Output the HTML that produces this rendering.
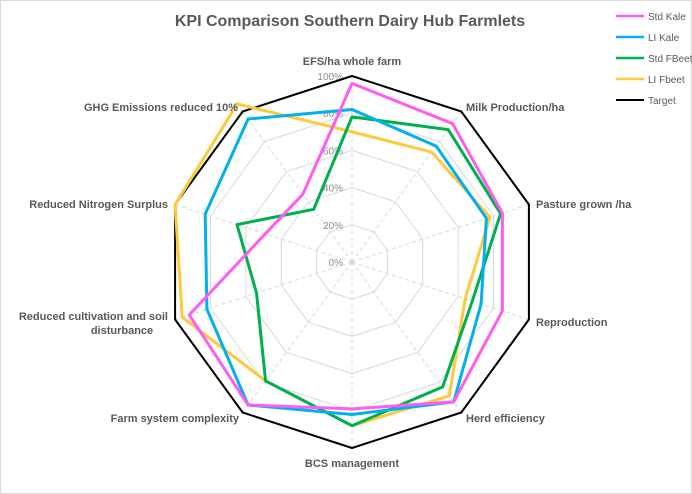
<!DOCTYPE html>
<html><head><meta charset="utf-8"><style>
html,body{margin:0;padding:0;background:#fff}
svg{display:block;font-family:"Liberation Sans",sans-serif}
</style></head><body>
<svg id="s" width="692" height="494" viewBox="0 0 692 494">
<rect x="0.5" y="0.5" width="691" height="493" fill="#fff" stroke="#d9d9d9"/>
<text x="350" y="26" text-anchor="middle" font-size="16" font-weight="bold" fill="#595959">KPI Comparison Southern Dairy Hub Farmlets</text>
<g id="g"></g>
<g font-size="11" font-weight="bold" fill="#595959">
<text x="352" y="65" text-anchor="middle">EFS/ha whole farm</text>
<text x="466" y="111">Milk Production/ha</text>
<text x="536" y="208">Pasture grown /ha</text>
<text x="536" y="326">Reproduction</text>
<text x="466" y="422">Herd efficiency</text>
<text x="352" y="467" text-anchor="middle">BCS management</text>
<text x="239" y="422" text-anchor="end">Farm system complexity</text>
<text x="168" y="320" text-anchor="end">Reduced cultivation and soil</text>
<text x="122" y="334" text-anchor="middle">disturbance</text>
<text x="168" y="208" text-anchor="end">Reduced Nitrogen Surplus</text>
<text x="238" y="111" text-anchor="end">GHG Emissions reduced 10%</text>
</g>
<g font-size="10" fill="#595959">
<line x1="616" y1="16" x2="644" y2="16" stroke="#ff5cf0" stroke-width="2.5"/><text x="648" y="20">Std Kale</text>
<line x1="616" y1="37" x2="644" y2="37" stroke="#00b0f0" stroke-width="2.5"/><text x="648" y="41">LI Kale</text>
<line x1="616" y1="58" x2="644" y2="58" stroke="#00b050" stroke-width="2.5"/><text x="648" y="62">Std FBeet</text>
<line x1="616" y1="79" x2="644" y2="79" stroke="#ffc93c" stroke-width="2.5"/><text x="648" y="83">LI Fbeet</text>
<line x1="616" y1="100" x2="644" y2="100" stroke="#000" stroke-width="2"/><text x="648" y="104">Target</text>
</g>
</svg>
<script>
var cx=352,cy=262,R=186,g=document.getElementById('g'),ns='http://www.w3.org/2000/svg';
function pt(k,v){var a=(-90+36*k)*Math.PI/180;return [cx+R*v*Math.cos(a),cy+R*v*Math.sin(a)];}
function poly(vals,st,w){var p=vals.map(function(v,k){return pt(k,v).map(function(n){return n.toFixed(1)}).join(',')}).join(' ');
var e=document.createElementNS(ns,'polygon');e.setAttribute('points',p);e.setAttribute('fill','none');e.setAttribute('stroke',st);e.setAttribute('stroke-width',w);e.setAttribute('stroke-linejoin','round');g.appendChild(e);}
for(var i=1;i<=4;i++){var a=[];for(var k=0;k<10;k++)a.push(i*0.2);poly(a,'#d9d9d9',1);}
for(var k=0;k<10;k++){var p=pt(k,1),l=document.createElementNS(ns,'line');l.setAttribute('x1',cx);l.setAttribute('y1',cy);l.setAttribute('x2',p[0]);l.setAttribute('y2',p[1]);l.setAttribute('stroke','#d9d9d9');l.setAttribute('stroke-dasharray','4,3');g.appendChild(l);}
var t=['0%','20%','40%','60%','80%','100%'];
for(var i=0;i<6;i++){var e=document.createElementNS(ns,'text');e.setAttribute('x',343);e.setAttribute('y',cy-i*0.2*R+4);e.setAttribute('text-anchor','end');e.setAttribute('font-size','10');e.setAttribute('fill','#8c8c8c');e.textContent=t[i];g.appendChild(e);}
var c=document.createElementNS(ns,'circle');c.setAttribute('cx',cx);c.setAttribute('cy',cy);c.setAttribute('r',2);c.setAttribute('fill','#d9d9d9');g.appendChild(c);
poly([1,1,1,1,1,1,1,1,1,1],'#000',2);
poly([0.70,0.73,0.78,0.64,0.89,0.88,0.79,0.96,1.0,1.05],'#ffc93c',3);
poly([0.78,0.88,0.84,0.68,0.83,0.88,0.79,0.54,0.65,0.35],'#00b050',3);
poly([0.82,0.77,0.76,0.73,0.93,0.82,0.95,0.82,0.83,0.95],'#00b0f0',3);
poly([0.96,0.92,0.85,0.85,0.93,0.79,0.95,0.92,0.49,0.45],'#ff5cf0',3);
</script>
</body></html>
